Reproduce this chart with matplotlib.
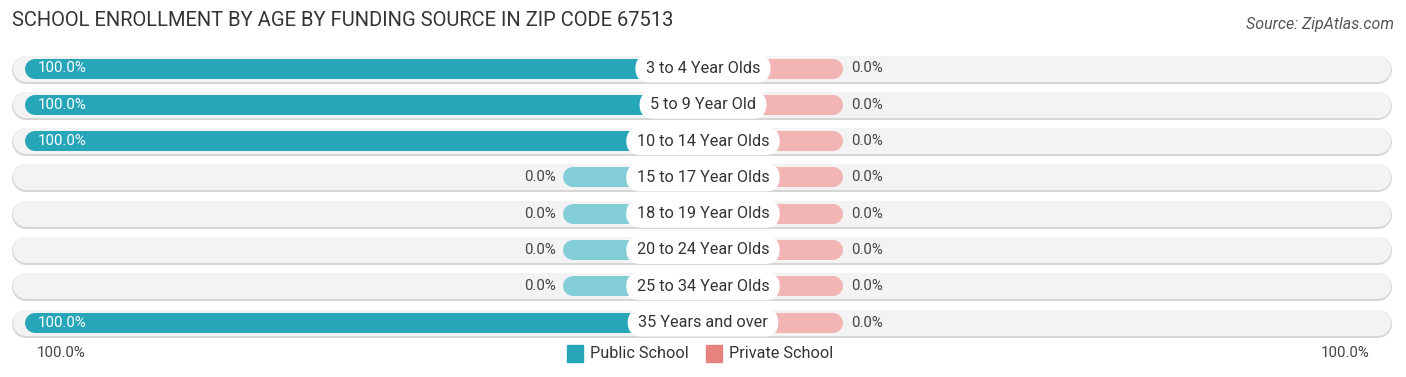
import matplotlib.pyplot as plt

categories = ["3 to 4 Year Olds", "5 to 9 Year Old", "10 to 14 Year Olds", "15 to 17 Year Olds",
              "18 to 19 Year Olds", "20 to 24 Year Olds", "25 to 34 Year Olds", "35 Years and over"]
public_pct = [100.0, 100.0, 100.0, 0.0, 0.0, 0.0, 0.0, 100.0]
private_pct = [0.0, 0.0, 0.0, 0.0, 0.0, 0.0, 0.0, 0.0]

PUBLIC = "#27a6ba"
PUBLIC_LIGHT = "#83cdd6"
PRIVATE = "#e8827e"
PRIVATE_LIGHT = "#f2b5b3"

plt.rcParams['font.family'] = ['Roboto', 'DejaVu Sans']

W, H, DPI = 1406, 377, 100
fig = plt.figure(figsize=(W / DPI, H / DPI), dpi=DPI)
ax = fig.add_axes([0, 0, 1, 1])

# pixel mapping: center at x=703, 100% = 678 px; rows at y=68.5 + 36.3*i
cx, scale = 703, 6.78
row0, step = 68.5, 36.3
ax.set_xlim(-cx / scale, (W - cx) / scale)
ax.set_ylim((H - row0) / step, -row0 / step)
ax.axis("off")

px = 72 / DPI  # points per pixel
stub = 20.7  # minimum visible stub for zero values (percent)
cap = 10 / scale  # half bar height in percent units
bg_l, bg_r = (12 - cx) / scale, (1392 - cx) / scale
bg_cap = 14 / scale

for i, (cat, pub, pri) in enumerate(zip(categories, public_pct, private_pct)):
    # row background
    ax.plot([bg_l + bg_cap, bg_r - bg_cap], [i + 0.03, i + 0.03], color="#d6d6d6",
            lw=28 * px, solid_capstyle="round", zorder=1)
    ax.plot([bg_l + bg_cap, bg_r - bg_cap], [i, i], color="#f3f3f3",
            lw=26 * px, solid_capstyle="round", zorder=2)

    # public (left)
    if pub > 0:
        ax.plot([-pub + cap, -cap], [i, i], color=PUBLIC, lw=20 * px, solid_capstyle="round", zorder=3)
        ax.text(-pub + 1.9, i, f"{pub:.1f}%", color="white", fontsize=10.8, ha="left", va="center", zorder=6)
    else:
        ax.plot([-stub + cap, -cap], [i, i], color=PUBLIC_LIGHT, lw=20 * px, solid_capstyle="round", zorder=3)
        ax.text(-stub - 1.0, i, f"{pub:.1f}%", color="#444444", fontsize=10.8, ha="right", va="center", zorder=6)

    # private (right)
    w = pri if pri > 0 else stub
    ax.plot([cap, w - cap], [i, i], color=PRIVATE if pri > 0 else PRIVATE_LIGHT, lw=20 * px,
            solid_capstyle="round", zorder=3)
    ax.text(w + 1.1, i, f"{pri:.1f}%", color="#444444", fontsize=10.8, ha="left", va="center", zorder=6)

    # category label
    ax.text(0, i, f" {cat} ", fontsize=11.7, color="#333333", ha="center", va="center", zorder=7,
            bbox=dict(boxstyle="round,pad=0.4,rounding_size=0.9", fc="white", ec="none"))

# title and source
fig.text(12 / W, 1 - 21 / H, "SCHOOL ENROLLMENT BY AGE BY FUNDING SOURCE IN ZIP CODE 67513",
         fontsize=14.5, color="#333333", ha="left", va="center")
fig.text(1394 / W, 1 - 25 / H, "Source: ZipAtlas.com", fontsize=11.5, color="#555555",
         ha="right", va="center", style="italic")

# bottom axis labels
fig.text(37 / W, 1 - 353 / H, "100.0%", fontsize=10.8, color="#444444", ha="left", va="center")
fig.text(1369 / W, 1 - 353 / H, "100.0%", fontsize=10.8, color="#444444", ha="right", va="center")

# legend
for x0, color, label in [(567, PUBLIC, "Public School"), (706, PRIVATE, "Private School")]:
    fig.patches.append(plt.Rectangle((x0 / W, 1 - 362 / H), 16 / W, 17 / H, transform=fig.transFigure,
                                     color=color, figure=fig))
    fig.text((x0 + 23) / W, 1 - 353 / H, label, fontsize=11.7, color="#333333", ha="left", va="center")

fig.savefig("out.png", dpi=DPI, facecolor="white")
